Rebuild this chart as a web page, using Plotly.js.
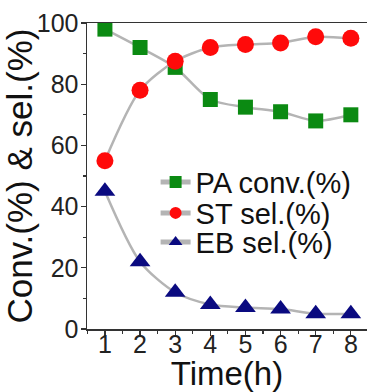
<!DOCTYPE html>
<html>
<head>
<meta charset="utf-8">
<script src="https://cdn.plot.ly/plotly-3.0.1.min.js"></script>
<style>
  html, body { margin: 0; padding: 0; background: #fff; }
  #chart { width: 367px; height: 392px; }
</style>
</head>
<body>
<div id="chart"></div>
<script>
// Reaction time (h)
const timeHours = [1, 2, 3, 4, 5, 6, 7, 8];

// Phenylacetylene conversion, styrene and ethylbenzene selectivity (%)
const paConv = [98, 92, 85.5, 75, 72.5, 71, 68, 70];
const stSel = [55, 78, 87.5, 92, 93, 93.5, 95.5, 95];
const ebSel = [45, 22, 12, 8, 7, 6.5, 5, 5];

const seriesNames = ['PA conv.(%)', 'ST sel.(%)', 'EB sel.(%)'];
const yTicks = [0, 20, 40, 60, 80, 100];

const FONT = 'Liberation Sans, Arial, sans-serif';
const lineStyle = { color: '#b4b4b4', width: 2.5, shape: 'spline', smoothing: 0.8 };

const traces = [
  {
    x: timeHours, y: paConv, name: seriesNames[0], mode: 'lines+markers',
    legend: 'legend',
    line: lineStyle,
    marker: { symbol: 'square', size: 15, color: '#0b8a12' }
  },
  {
    x: timeHours, y: stSel, name: seriesNames[1], mode: 'lines+markers',
    legend: 'legend2',
    line: lineStyle,
    marker: { symbol: 'circle', size: 17, color: '#ff0a0a' }
  },
  {
    x: timeHours, y: ebSel, name: seriesNames[2], mode: 'lines+markers',
    legend: 'legend3',
    line: lineStyle,
    marker: { symbol: 'triangle-up', size: 18, color: '#0a0a80' }
  }
];

// one legend box per series so the rows can sit closer than the default spacing
function legendBox(yPos) {
  return {
    x: 0.245, y: yPos, xanchor: 'left', yanchor: 'middle',
    bgcolor: 'rgba(0,0,0,0)',
    font: { size: 29, family: FONT, color: '#111' },
    itemwidth: 30,
    itemsizing: 'constant'
  };
}

const layout = {
  width: 367,
  height: 392,
  margin: { l: 87, r: 0, t: 23, b: 63 },
  paper_bgcolor: '#ffffff',
  plot_bgcolor: '#ffffff',
  font: { family: FONT, color: '#111' },
  showlegend: true,
  legend: legendBox(0.480),
  legend2: legendBox(0.379),
  legend3: legendBox(0.284),
  xaxis: {
    range: [0.49, 8.46],
    tickvals: timeHours,
    ticks: 'outside', ticklen: 5, tickwidth: 1.2, tickcolor: '#333',
    ticklabelstandoff: -13,
    minor: { dtick: 0.5, tick0: 0.5, ticks: 'outside', ticklen: 3, tickcolor: '#333', showgrid: false },
    showline: true, linecolor: '#333', linewidth: 1.5, mirror: true,
    showgrid: false, zeroline: false,
    tickfont: { size: 25, family: FONT, color: '#222' },
    title: { text: 'Time(h)', font: { size: 33, family: FONT, color: '#111' }, standoff: 0 }
  },
  yaxis: {
    range: [0, 100],
    tickvals: yTicks,
    ticks: 'outside', ticklen: 5, tickwidth: 1.2, tickcolor: '#333',
    ticklabelstandoff: -3,
    minor: { dtick: 10, ticks: 'outside', ticklen: 3, tickcolor: '#333', showgrid: false },
    showline: true, linecolor: '#333', linewidth: 1.5,
    showgrid: false, zeroline: false,
    tickfont: { size: 25, family: FONT, color: '#222' },
    title: { text: 'Conv.(%) &amp; sel.(%)', font: { size: 35, family: FONT, color: '#111' }, standoff: 0 }
  }
};

Plotly.newPlot('chart', traces, layout, { displayModeBar: false, staticPlot: true });
</script>
</body>
</html>
